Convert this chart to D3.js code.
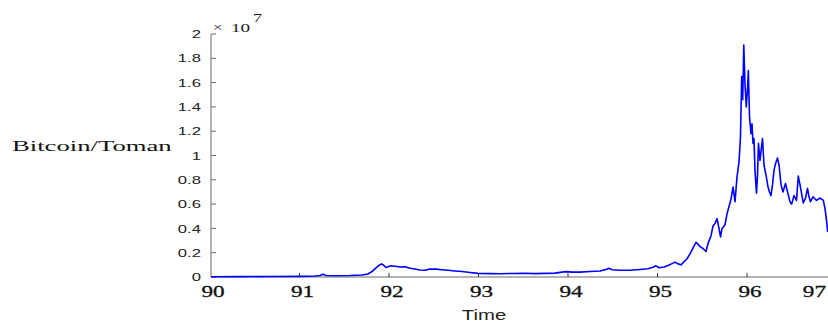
<!DOCTYPE html>
<html>
<head>
<meta charset="utf-8">
<script src="https://cdn.jsdelivr.net/npm/d3@7"></script>
<style>
  html, body { margin: 0; padding: 0; background: #fff; }
  svg { display: block; }
</style>
</head>
<body>
<svg id="chart" width="828" height="324"></svg>
<script>
// Bitcoin price in Toman (units of 1e7), by Persian calendar year (13xx shortened)
const years = [
  90.011, 90.335, 90.670, 91.006, 91.173, 91.229, 91.263, 91.296, 91.397, 91.564,
  91.698, 91.765, 91.810, 91.855, 91.888, 91.916, 91.944, 91.966, 91.989, 92.022,
  92.067, 92.123, 92.179, 92.235, 92.291, 92.346, 92.402, 92.458, 92.525, 92.592,
  92.659, 92.737, 92.816, 92.905, 92.994, 93.128, 93.240, 93.374, 93.520, 93.631,
  93.743, 93.855, 93.933, 93.978, 94.045, 94.134, 94.246, 94.358, 94.425, 94.458,
  94.492, 94.581, 94.693, 94.804, 94.894, 94.950, 94.983, 95.017, 95.073, 95.117,
  95.162, 95.196, 95.229, 95.263, 95.296, 95.330, 95.363, 95.397, 95.430, 95.453,
  95.475, 95.508, 95.542, 95.564, 95.598, 95.620, 95.642, 95.665, 95.687, 95.704,
  95.721, 95.754, 95.777, 95.799, 95.821, 95.844, 95.866, 95.888, 95.911, 95.927,
  95.941, 95.952, 95.964, 95.978, 95.992, 96.006, 96.015, 96.028, 96.045, 96.056,
  96.067, 96.078, 96.089, 96.106, 96.117, 96.128, 96.145, 96.159, 96.173, 96.190,
  96.212, 96.235, 96.251, 96.268, 96.285, 96.302, 96.318, 96.341, 96.358, 96.380,
  96.402, 96.430, 96.453, 96.480, 96.499, 96.525, 96.553, 96.573, 96.592, 96.609,
  96.629, 96.654, 96.676, 96.693, 96.709, 96.737, 96.777, 96.816, 96.853, 96.872,
  96.891, 96.902
];
const prices = [
  0.002, 0.003, 0.004, 0.005, 0.008, 0.012, 0.022, 0.012, 0.010, 0.012,
  0.016, 0.025, 0.045, 0.075, 0.095, 0.108, 0.095, 0.078, 0.085, 0.092,
  0.088, 0.082, 0.085, 0.072, 0.066, 0.058, 0.055, 0.066, 0.065, 0.060,
  0.056, 0.050, 0.045, 0.037, 0.030, 0.028, 0.027, 0.029, 0.031, 0.028,
  0.030, 0.032, 0.040, 0.044, 0.040, 0.040, 0.045, 0.049, 0.062, 0.072,
  0.060, 0.056, 0.056, 0.062, 0.068, 0.080, 0.092, 0.076, 0.082, 0.095,
  0.110, 0.122, 0.108, 0.100, 0.125, 0.150, 0.190, 0.240, 0.285, 0.270,
  0.250, 0.235, 0.210, 0.275, 0.340, 0.420, 0.440, 0.480, 0.400, 0.330,
  0.400, 0.430, 0.520, 0.580, 0.640, 0.740, 0.620, 0.820, 0.950, 1.150,
  1.650, 1.460, 1.910, 1.580, 1.400, 1.550, 1.700, 1.320, 1.180, 1.260,
  1.100, 1.140, 0.880, 0.690, 0.830, 1.100, 0.960, 1.050, 1.140, 0.920,
  0.840, 0.740, 0.700, 0.670, 0.760, 0.880, 0.930, 0.980, 0.920, 0.760,
  0.700, 0.770, 0.700, 0.620, 0.600, 0.670, 0.630, 0.830, 0.760, 0.690,
  0.610, 0.650, 0.730, 0.660, 0.620, 0.660, 0.630, 0.650, 0.630, 0.560,
  0.450, 0.370
];

// Axis ticks and labels (the last label sits at the end of the series)
const xTickValues = [90, 91, 92, 93, 94, 95, 96, 96.72];
const xTickLabels = ["90", "91", "92", "93", "94", "95", "96", "97"];
const yTickValues = [0, 0.2, 0.4, 0.6, 0.8, 1, 1.2, 1.4, 1.6, 1.8, 2];
const yTickLabels = ["0", "0.2", "0.4", "0.6", "0.8", "1", "1.2", "1.4", "1.6", "1.8", "2"];

const svg = d3.select("#chart");
const plotLeft = 211, plotRight = 828, plotTop = 34, plotBottom = 277;

const x = d3.scaleLinear().domain([90, 96.905]).range([210, plotRight]);
const y = d3.scaleLinear().domain([0, 2]).range([plotBottom, plotTop]);

const SX = 1.45; // horizontal text stretch

// x axis baseline
svg.append("line")
  .attr("x1", plotLeft).attr("x2", plotRight)
  .attr("y1", plotBottom).attr("y2", plotBottom)
  .attr("stroke", "#b4b4b4").attr("stroke-width", 2);

// y axis line
svg.append("line")
  .attr("x1", plotLeft).attr("x2", plotLeft)
  .attr("y1", plotTop).attr("y2", plotBottom)
  .attr("stroke", "#6a6a6a").attr("stroke-width", 1);

// y ticks (inward) and labels
yTickValues.forEach((v, i) => {
  svg.append("line")
    .attr("x1", plotLeft).attr("x2", plotLeft + 5)
    .attr("y1", y(v)).attr("y2", y(v))
    .attr("stroke", "#6a6a6a").attr("stroke-width", 1);
  svg.append("text")
    .attr("transform", `translate(201,${y(v)}) scale(${SX},1)`)
    .attr("text-anchor", "end")
    .attr("dy", "0.36em")
    .attr("font-family", "Liberation Sans, Arial, sans-serif")
    .attr("font-size", 11.5)
    .attr("fill", "#222")
    .text(yTickLabels[i]);
});

// x ticks (inward) and labels
xTickValues.forEach((v, i) => {
  if (i > 0 && i < xTickValues.length - 1) {
    svg.append("line")
      .attr("x1", x(v)).attr("x2", x(v))
      .attr("y1", plotBottom).attr("y2", plotBottom - 4)
      .attr("stroke", "#333").attr("stroke-width", 1);
  }
  svg.append("text")
    .attr("transform", `translate(${x(v) + 3},297) scale(${SX},1)`)
    .attr("text-anchor", "middle")
    .attr("font-family", "Liberation Serif, Times New Roman, serif")
    .attr("font-size", 16)
    .attr("fill", "#111")
    .attr("stroke", "#111")
    .attr("stroke-width", 0.3)
    .text(xTickLabels[i]);
});

// exponent marker
svg.append("text")
  .attr("transform", `translate(213,31) scale(${SX},1)`)
  .attr("font-family", "Liberation Sans, Arial, sans-serif")
  .attr("font-size", 11)
  .attr("fill", "#555")
  .text("×");
svg.append("text")
  .attr("transform", `translate(231,32) scale(1.6,1)`)
  .attr("font-family", "Liberation Serif, Times New Roman, serif")
  .attr("font-size", 12)
  .attr("fill", "#222")
  .text("10");
svg.append("text")
  .attr("transform", `translate(253,22) scale(1.5,1)`)
  .attr("font-family", "Liberation Serif, Times New Roman, serif")
  .attr("font-size", 12)
  .attr("fill", "#222")
  .text("7");

// axis titles
svg.append("text")
  .attr("transform", `translate(12,151) scale(1.78,1)`)
  .attr("font-family", "Liberation Serif, Times New Roman, serif")
  .attr("font-size", 15)
  .attr("fill", "#111")
  .text("Bitcoin/Toman");
svg.append("text")
  .attr("transform", `translate(484,320) scale(${SX},1)`)
  .attr("text-anchor", "middle")
  .attr("font-family", "Liberation Sans, Arial, sans-serif")
  .attr("font-size", 14)
  .attr("fill", "#222")
  .text("Time");

// price line
const series = years.map((t, i) => ({ t, p: prices[i] }));
svg.append("path")
  .datum(series)
  .attr("fill", "none")
  .attr("stroke", "#0000ff")
  .attr("stroke-width", 1.6)
  .attr("stroke-linejoin", "round")
  .attr("d", d3.line().x(d => x(d.t)).y(d => y(d.p)));
</script>
</body>
</html>
